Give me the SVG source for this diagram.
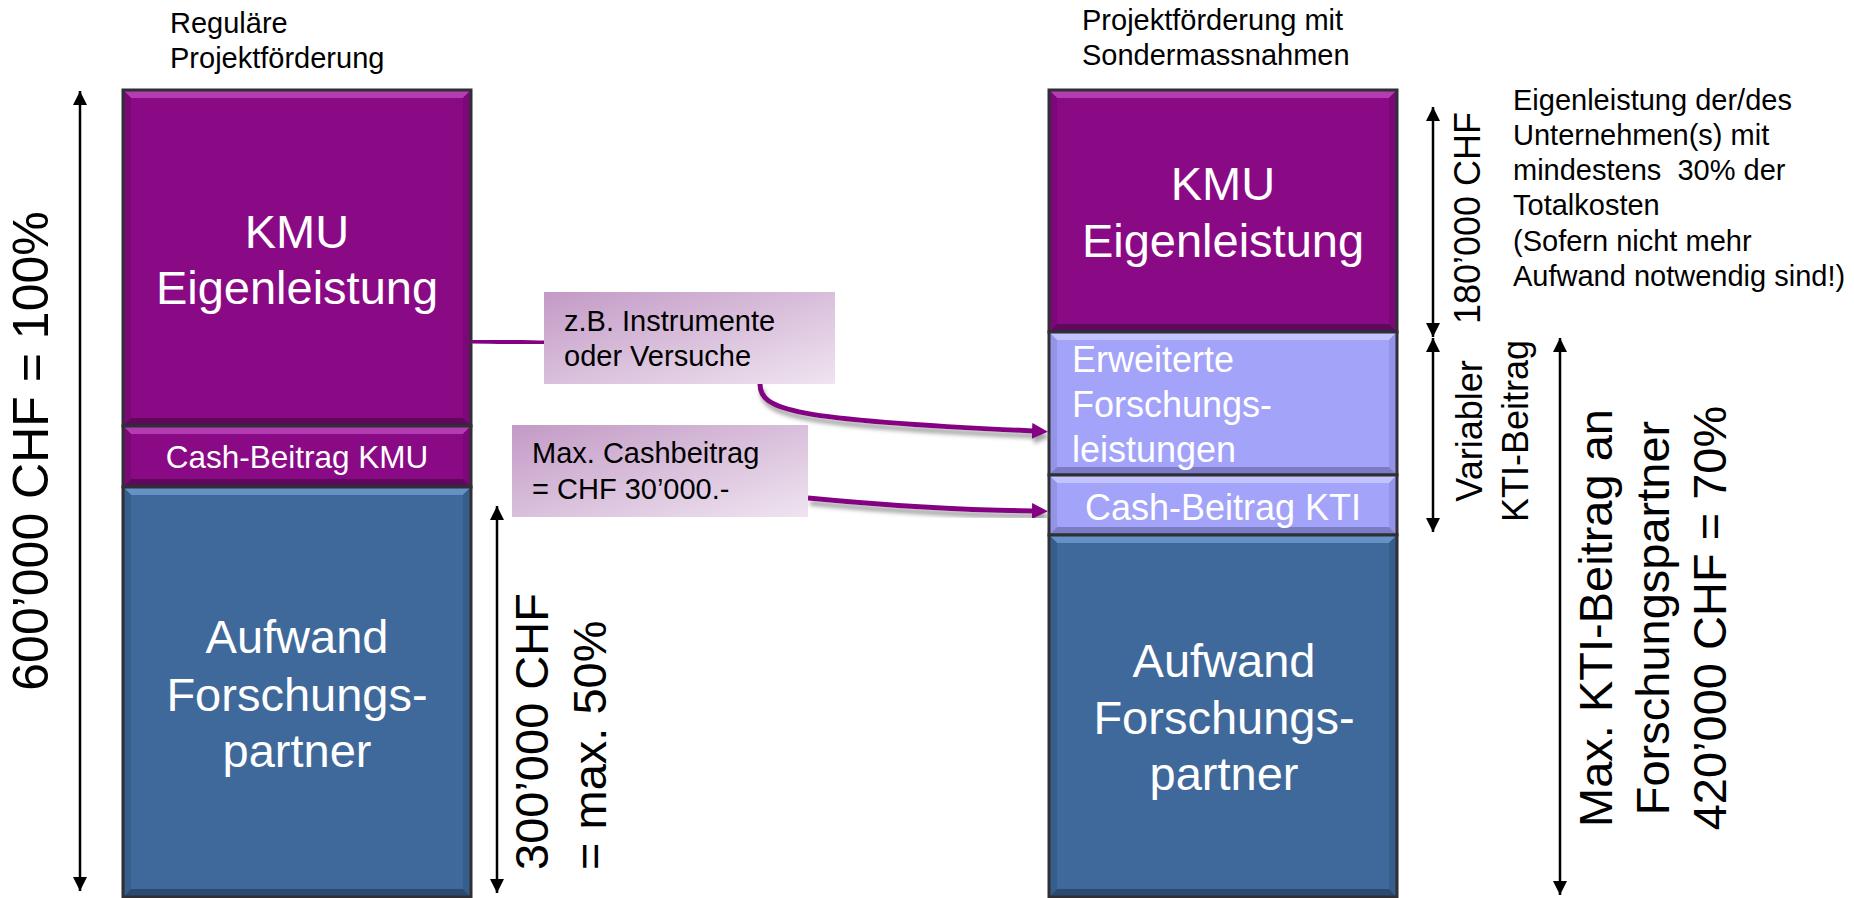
<svg xmlns="http://www.w3.org/2000/svg" width="1854" height="898" viewBox="0 0 1854 898">
<style>
text{font-family:"Liberation Sans",Arial,sans-serif}
.w{fill:#ffffff}
.k{fill:#000000}
.mid{text-anchor:middle}
.edge{fill:none;stroke:#2f2f35;stroke-width:3}
.pu{fill:#8a0a85}.puT{fill:#b43cb2}.puS{fill:#7a0876}.puB{fill:#5e0a5b}
.bl{fill:#3f699b}.blT{fill:#6592c6}.blS{fill:#375d8b}.blB{fill:#2a4a70}
.lv{fill:#a3a3f9}.lvT{fill:#c3c3ff}.lvS{fill:#9494e6}.lvB{fill:#7c7cc6}
.dim{stroke:#000;stroke-width:2.5;fill:none;marker-start:url(#ah);marker-end:url(#ah)}
.con{stroke:#850283;stroke-width:5;fill:none;filter:url(#sh)}
.call{fill:url(#cg)}
</style>
<defs>
<marker id="ah" viewBox="0 0 14 14" refX="14" refY="7" markerWidth="14" markerHeight="14" markerUnits="userSpaceOnUse" orient="auto-start-reverse">
<path d="M0,0 L14,7 L0,14 z" fill="#000"/>
</marker>
<marker id="pa" viewBox="0 0 16 16" refX="1" refY="8" markerWidth="16" markerHeight="16" markerUnits="userSpaceOnUse" orient="auto">
<path d="M0,0 L16,8 L0,16 z" fill="#850283"/>
</marker>
<filter id="sh" x="-10%" y="-50%" width="120%" height="200%">
<feDropShadow dx="2" dy="5" stdDeviation="2" flood-color="#7a7a7a" flood-opacity="0.7"/>
</filter>
<linearGradient id="cg" x1="0" y1="0" x2="1" y2="1">
<stop offset="0" stop-color="#c39ac6"/>
<stop offset="1" stop-color="#efe4f0"/>
</linearGradient>
</defs>

<g id="title-left">
<text class="k" x="170" y="33" font-size="29">Reguläre</text>
<text class="k" x="170" y="68" font-size="29">Projektförderung</text>
</g>
<g id="title-right">
<text class="k" x="1082" y="30" font-size="29">Projektförderung mit</text>
<text class="k" x="1082" y="65" font-size="29">Sondermassnahmen</text>
</g>

<g id="left-kmu-eigenleistung">
<rect class="pu" x="123" y="90" width="348" height="336"/>
<polygon class="puT" points="123,90 471,90 463,98 131,98"/>
<polygon class="puS" points="123,90 131,98 131,418 123,426"/>
<polygon class="puS" points="471,90 471,426 463,418 463,98"/>
<polygon class="puB" points="123,426 131,418 463,418 471,426"/>
<rect class="edge" x="123" y="90" width="348" height="336"/>
<text class="w mid" x="297" y="248" font-size="47">KMU</text>
<text class="w mid" x="297" y="304" font-size="47">Eigenleistung</text>
</g>
<g id="left-cash-kmu">
<rect class="pu" x="123" y="426" width="348" height="61"/>
<polygon class="puT" points="123,426 471,426 463,434 131,434"/>
<polygon class="puS" points="123,426 131,434 131,479 123,487"/>
<polygon class="puS" points="471,426 471,487 463,479 463,434"/>
<polygon class="puB" points="123,487 131,479 463,479 471,487"/>
<rect class="edge" x="123" y="426" width="348" height="61"/>
<text class="w mid" x="297" y="468" font-size="31.5">Cash-Beitrag KMU</text>
</g>
<g id="left-aufwand">
<rect class="bl" x="123" y="487" width="348" height="410"/>
<polygon class="blT" points="123,487 471,487 463,495 131,495"/>
<polygon class="blS" points="123,487 131,495 131,889 123,897"/>
<polygon class="blS" points="471,487 471,897 463,889 463,495"/>
<polygon class="blB" points="123,897 131,889 463,889 471,897"/>
<rect class="edge" x="123" y="487" width="348" height="410"/>
<text class="w mid" x="297" y="653" font-size="47">Aufwand</text>
<text class="w mid" x="297" y="711" font-size="47">Forschungs-</text>
<text class="w mid" x="297" y="767" font-size="47">partner</text>
</g>

<g id="right-kmu-eigenleistung">
<rect class="pu" x="1049" y="90" width="348" height="242"/>
<polygon class="puT" points="1049,90 1397,90 1389,98 1057,98"/>
<polygon class="puS" points="1049,90 1057,98 1057,324 1049,332"/>
<polygon class="puS" points="1397,90 1397,332 1389,324 1389,98"/>
<polygon class="puB" points="1049,332 1057,324 1389,324 1397,332"/>
<rect class="edge" x="1049" y="90" width="348" height="242"/>
<text class="w mid" x="1223" y="200" font-size="47">KMU</text>
<text class="w mid" x="1223" y="257" font-size="47">Eigenleistung</text>
</g>
<g id="right-erweiterte">
<rect class="lv" x="1049" y="332" width="348" height="143"/>
<polygon class="lvT" points="1049,332 1397,332 1389,340 1057,340"/>
<polygon class="lvS" points="1049,332 1057,340 1057,467 1049,475"/>
<polygon class="lvS" points="1397,332 1397,475 1389,467 1389,340"/>
<polygon class="lvB" points="1049,475 1057,467 1389,467 1397,475"/>
<rect class="edge" x="1049" y="332" width="348" height="143"/>
<text class="w" x="1072" y="372" font-size="36">Erweiterte</text>
<text class="w" x="1072" y="417" font-size="36">Forschungs-</text>
<text class="w" x="1072" y="462" font-size="36">leistungen</text>
</g>
<g id="right-cash-kti">
<rect class="lv" x="1049" y="475" width="348" height="60"/>
<polygon class="lvT" points="1049,475 1397,475 1389,483 1057,483"/>
<polygon class="lvS" points="1049,475 1057,483 1057,527 1049,535"/>
<polygon class="lvS" points="1397,475 1397,535 1389,527 1389,483"/>
<polygon class="lvB" points="1049,535 1057,527 1389,527 1397,535"/>
<rect class="edge" x="1049" y="475" width="348" height="60"/>
<text class="w mid" x="1223" y="520" font-size="36">Cash-Beitrag KTI</text>
</g>
<g id="right-aufwand">
<rect class="bl" x="1049" y="535" width="348" height="362"/>
<polygon class="blT" points="1049,535 1397,535 1389,543 1057,543"/>
<polygon class="blS" points="1049,535 1057,543 1057,889 1049,897"/>
<polygon class="blS" points="1397,535 1397,897 1389,889 1389,543"/>
<polygon class="blB" points="1049,897 1057,889 1389,889 1397,897"/>
<rect class="edge" x="1049" y="535" width="348" height="362"/>
<text class="w mid" x="1224" y="677" font-size="47">Aufwand</text>
<text class="w mid" x="1224" y="734" font-size="47">Forschungs-</text>
<text class="w mid" x="1224" y="790" font-size="47">partner</text>
</g>

<g id="connectors">
<path class="con" d="M471,341 C500,341 520,343 546,343"/>
<path class="con" d="M760,384 C760,410 790,420 1033,431" marker-end="url(#pa)"/>
<path class="con" d="M471,456 L514,456"/>
<path class="con" d="M808,498 C880,505 950,510 1033,511" marker-end="url(#pa)"/>
</g>

<g id="callout-instrumente">
<rect class="call" x="544" y="292" width="291" height="92"/>
<text class="k" x="564" y="331" font-size="29">z.B. Instrumente</text>
<text class="k" x="564" y="366" font-size="29">oder Versuche</text>
</g>
<g id="callout-cashbeitrag">
<rect class="call" x="512" y="425" width="296" height="92"/>
<text class="k" x="532" y="463" font-size="29">Max. Cashbeitrag</text>
<text class="k" x="532" y="499" font-size="29">= CHF 30’000.-</text>
</g>

<g id="dim-600">
<line class="dim" x1="80" y1="91" x2="80" y2="891"/>
<text class="k mid" transform="translate(48,451) rotate(-90)" font-size="50">600’000 CHF = 100%</text>
</g>
<g id="dim-300">
<line class="dim" x1="497" y1="506" x2="497" y2="893"/>
<text class="k" transform="translate(548,870) rotate(-90)" font-size="47">300’000 CHF</text>
<text class="k" transform="translate(606,870) rotate(-90)" font-size="47">= max. 50%</text>
</g>
<g id="dim-180">
<line class="dim" x1="1433" y1="107" x2="1433" y2="337"/>
<text class="k mid" transform="translate(1480,218) rotate(-90)" font-size="36">180’000 CHF</text>
</g>
<g id="dim-variabler">
<line class="dim" x1="1433" y1="338" x2="1433" y2="532"/>
<text class="k mid" transform="translate(1482,431) rotate(-90)" font-size="36">Variabler</text>
<text class="k mid" transform="translate(1528,431) rotate(-90)" font-size="36">KTI-Beitrag</text>
</g>
<g id="dim-420">
<line class="dim" x1="1560" y1="338" x2="1560" y2="895"/>
<text class="k mid" transform="translate(1612,618) rotate(-90)" font-size="47">Max. KTI-Beitrag an</text>
<text class="k mid" transform="translate(1669,618) rotate(-90)" font-size="47">Forschungspartner</text>
<text class="k mid" transform="translate(1726,618) rotate(-90)" font-size="47">420’000 CHF = 70%</text>
</g>
<g id="note-eigenleistung">
<text class="k" x="1513" y="110" font-size="29">Eigenleistung der/des</text>
<text class="k" x="1513" y="145" font-size="29">Unternehmen(s) mit</text>
<text class="k" x="1513" y="180" font-size="29" style="white-space:pre">mindestens  30% der</text>
<text class="k" x="1513" y="215" font-size="29">Totalkosten</text>
<text class="k" x="1513" y="251" font-size="29">(Sofern nicht mehr</text>
<text class="k" x="1513" y="286" font-size="29">Aufwand notwendig sind!)</text>
</g>
</svg>
